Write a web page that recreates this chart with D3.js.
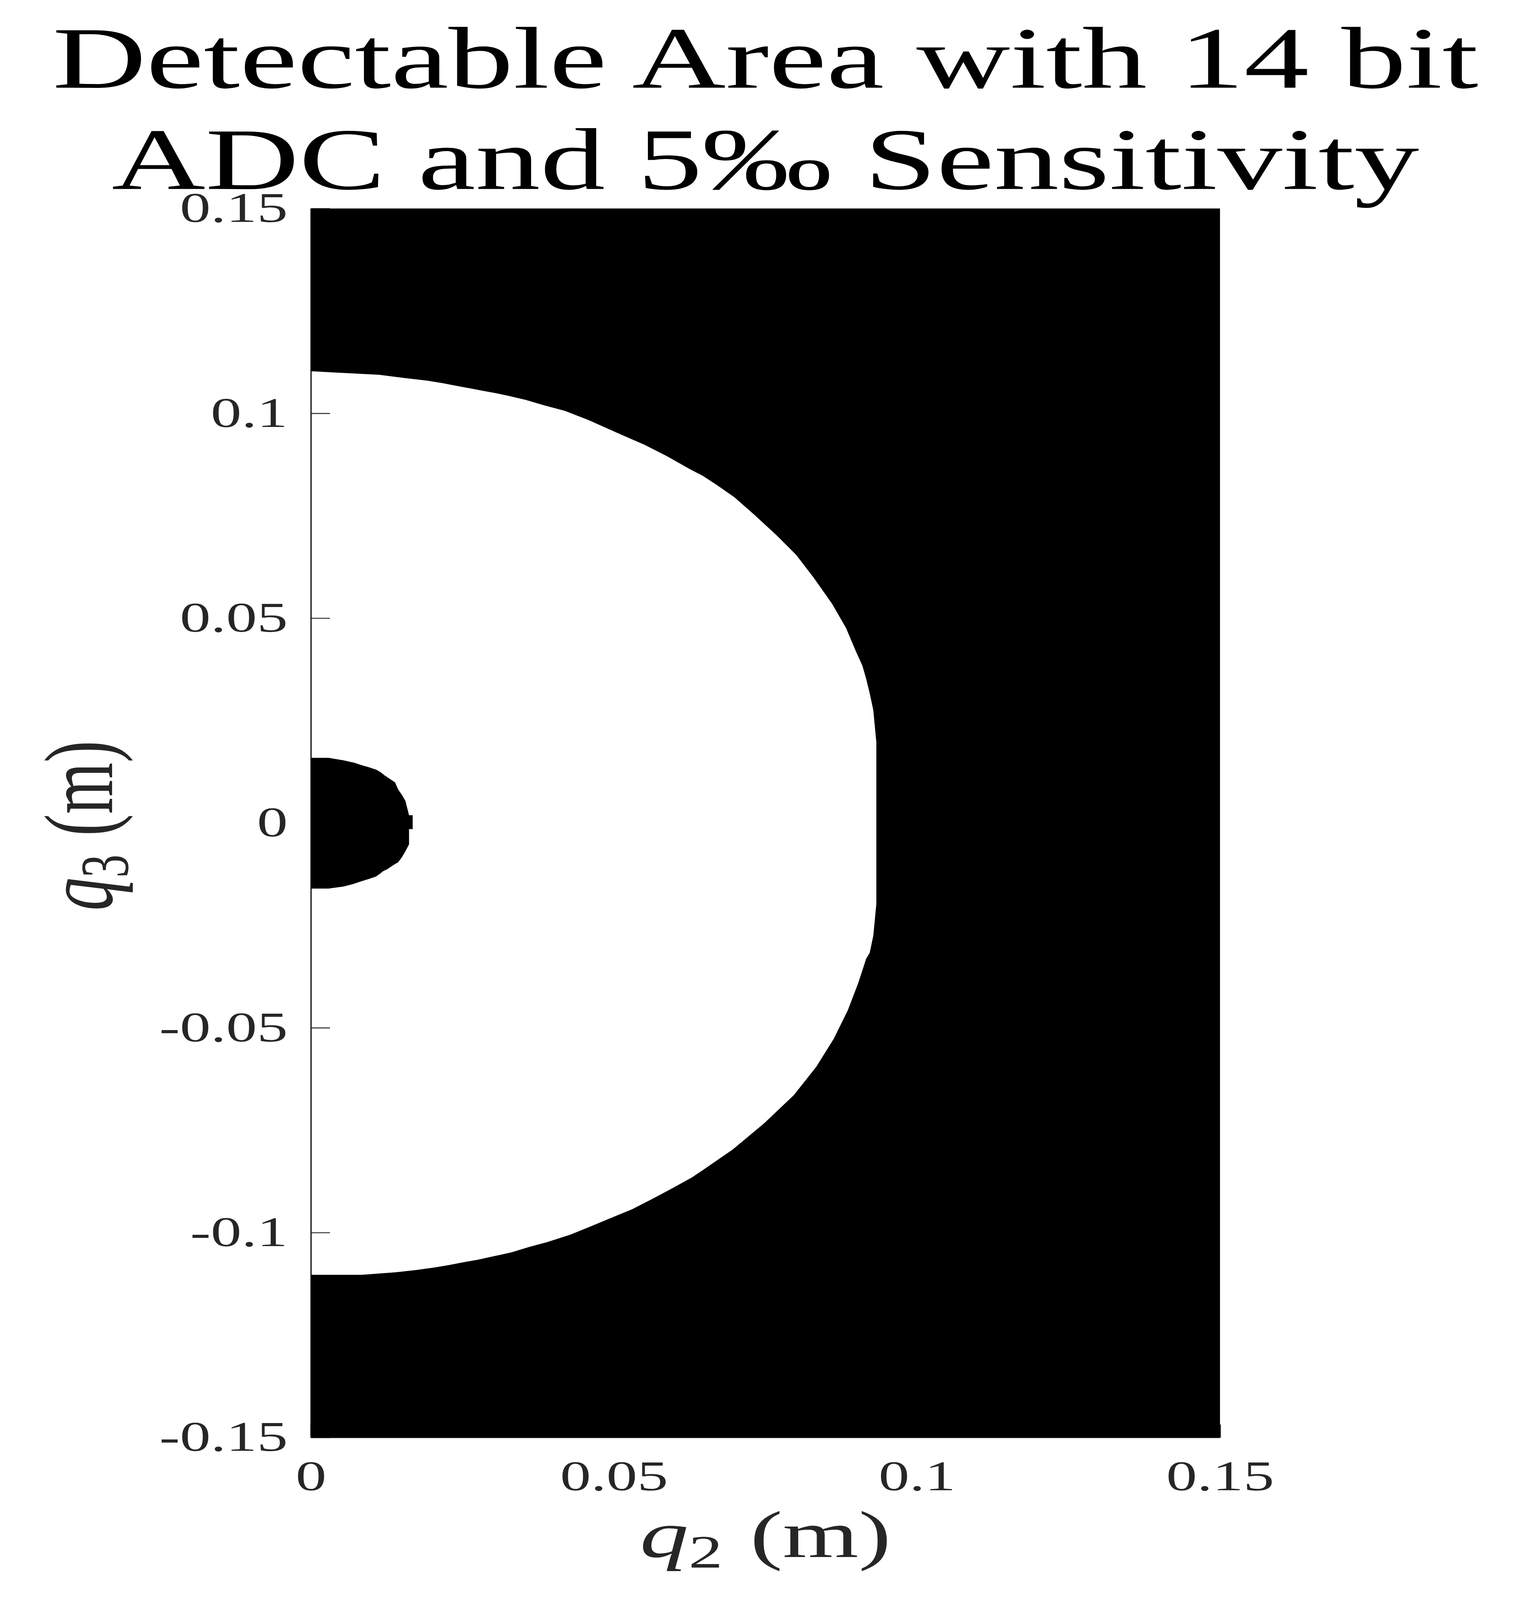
<!DOCTYPE html>
<html>
<head>
<meta charset="utf-8">
<script src="https://cdn.jsdelivr.net/npm/d3@7"></script>
<style>
  html, body { margin: 0; padding: 0; background: #ffffff; overflow: hidden; }
  svg { display: block; }
</style>
</head>
<body>
<script>
// ---- Data ----
const titleLines = ["Detectable Area with 14 bit", "ADC and 5\u2030 Sensitivity"];
const xDomain = [0, 0.15];
const yDomain = [-0.15, 0.15];
const xTicks = [0, 0.05, 0.1, 0.15];
const xTickLabels = ["0", "0.05", "0.1", "0.15"];
const yTicks = [-0.15, -0.1, -0.05, 0, 0.05, 0.1, 0.15];
const yTickLabels = ["-0.15", "-0.1", "-0.05", "0", "0.05", "0.1", "0.15"];

// Outer boundary of the white (undetectable) region, top to bottom
const outerQ3 = [0.1103, 0.1100, 0.1094, 0.1086, 0.1080, 0.1074, 0.1067, 0.1061, 0.1055, 0.1049,
  0.1043, 0.1033, 0.1020, 0.1006, 0.0985, 0.0952, 0.0923, 0.0895, 0.0864, 0.0848,
  0.0826, 0.0795, 0.0752, 0.0703, 0.0654, 0.0598, 0.0535, 0.0476, 0.0420, 0.0384,
  0.0353, 0.0317, 0.0275, 0.0197, 0.0000, -0.0197, -0.0275, -0.0317, -0.0332, -0.0355,
  -0.0391, -0.0457, -0.0526, -0.0595, -0.0664, -0.0733, -0.0797, -0.0848, -0.0865, -0.0892,
  -0.0918, -0.0943, -0.0963, -0.0984, -0.1005, -0.1023, -0.1035, -0.1048, -0.1054, -0.1060,
  -0.1066, -0.1072, -0.1079, -0.1085, -0.1091, -0.1097, -0.1103, -0.1103];
const outerQ2 = [0.0000, 0.0035, 0.0113, 0.0156, 0.0191, 0.0216, 0.0241, 0.0263, 0.0284, 0.0306,
  0.0325, 0.0354, 0.0384, 0.0419, 0.0456, 0.0506, 0.0551, 0.0588, 0.0625, 0.0646,
  0.0669, 0.0699, 0.0732, 0.0768, 0.0801, 0.0830, 0.0860, 0.0883, 0.0899, 0.0910,
  0.0916, 0.0922, 0.0928, 0.0933, 0.0933, 0.0933, 0.0928, 0.0922, 0.0916, 0.0911,
  0.0903, 0.0886, 0.0863, 0.0834, 0.0797, 0.0748, 0.0696, 0.0646, 0.0629, 0.0596,
  0.0563, 0.0530, 0.0497, 0.0463, 0.0428, 0.0390, 0.0360, 0.0331, 0.0313, 0.0294,
  0.0276, 0.0253, 0.0228, 0.0204, 0.0175, 0.0138, 0.0084, 0.0000];

// Boundary of the small black region near the origin, top to bottom
const innerQ3 = [0.0159, 0.0159, 0.0153, 0.0147, 0.0141, 0.0136, 0.0130, 0.0124, 0.0117, 0.0111,
  0.0105, 0.0099, 0.0082, 0.0069, 0.0054, 0.0019, 0.0019, -0.0015, -0.0015, -0.0052,
  -0.0069, -0.0084, -0.0096, -0.0101, -0.0107, -0.0113, -0.0118, -0.0125, -0.0131, -0.0137,
  -0.0143, -0.0149, -0.0155, -0.0160, -0.0160];
const innerQ2 = [0.0000, 0.0029, 0.0054, 0.0072, 0.0084, 0.0096, 0.0108, 0.0115, 0.0121, 0.0127,
  0.0133, 0.0139, 0.0144, 0.0150, 0.0156, 0.0162, 0.0168, 0.0168, 0.0162, 0.0162,
  0.0156, 0.0150, 0.0144, 0.0138, 0.0132, 0.0126, 0.0119, 0.0113, 0.0107, 0.0095,
  0.0082, 0.0070, 0.0054, 0.0029, 0.0000];

// ---- Drawing ----
// The chart is laid out on the reference's 3905 x 6054 canvas; the SVG is then
// fitted to the actual browser viewport so that the whole figure is always visible.
const W = 3905, H = 6054;
const FONT = "'Liberation Serif', 'Times New Roman', Times, serif";
const AXC = "#262626";

const vw = window.innerWidth || W;
const vh = window.innerHeight || H;

const svg = d3.select("body").append("svg")
  .attr("width", vw).attr("height", vh)
  .attr("viewBox", `0 0 ${W} ${H}`)
  .attr("preserveAspectRatio", "none");

svg.append("rect").attr("width", W).attr("height", H).attr("fill", "#ffffff");

const x = d3.scaleLinear().domain(xDomain).range([796, 3124]);
const y = d3.scaleLinear().domain(yDomain).range([5439, 789]);

// Axes (drawn below the data, as MATLAB's default layer)
const yAxis = d3.axisLeft(y)
  .tickValues(yTicks)
  .tickFormat((d, i) => yTickLabels[i])
  .tickSizeInner(-49).tickSizeOuter(0).tickPadding(59);
const gy = svg.append("g").attr("transform", `translate(${x(xDomain[0])},0)`).call(yAxis);

const xAxis = d3.axisBottom(x)
  .tickValues(xTicks)
  .tickFormat((d, i) => xTickLabels[i])
  .tickSizeInner(-49).tickSizeOuter(0).tickPadding(88);
const gx = svg.append("g").attr("transform", `translate(0,${y(yDomain[0])})`).call(xAxis);

[gx, gy].forEach(g => {
  g.select(".domain").attr("stroke", AXC).attr("stroke-width", 3.6);
  g.selectAll(".tick line").attr("stroke", AXC).attr("stroke-width", 3.6);
  g.selectAll(".tick text")
    .attr("fill", AXC)
    .style("font-family", FONT)
    .style("font-size", "158px");
});

// Data: black detectable region
const line = d3.line().x(d => x(d[0])).y(d => y(d[1]));
const outerPts = outerQ3.map((v, i) => [outerQ2[i], v]);
const blackPts = [
  [xDomain[0], yDomain[1]],
  [xDomain[1], yDomain[1]],
  [xDomain[1], yDomain[0]],
  [xDomain[0], yDomain[0]],
  ...outerPts.slice().reverse()
];
svg.append("path")
  .attr("d", line(blackPts) + "Z")
  .attr("fill", "#000000");

const innerPts = innerQ3.map((v, i) => [innerQ2[i], v]);
svg.append("path")
  .attr("d", line(innerPts) + "Z")
  .attr("fill", "#000000");

// Title
const cx = (x.range()[0] + x.range()[1]) / 2;
const title = svg.append("g");
titleLines.forEach((t, i) => {
  title.append("text")
    .attr("x", cx)
    .attr("y", 332 + i * 383)
    .attr("text-anchor", "middle")
    .attr("fill", "#000000")
    .style("font-family", FONT)
    .style("font-size", "332px")
    .text(t);
});

// X label: q2 (m)
const xl = svg.append("text")
  .attr("x", cx)
  .attr("y", 5892)
  .attr("text-anchor", "middle")
  .attr("fill", AXC)
  .style("font-family", FONT)
  .style("font-size", "250px");
xl.append("tspan").style("font-style", "italic").text("q");
xl.append("tspan").attr("dy", 40).style("font-size", "175px").text("2");
xl.append("tspan").attr("dy", -40).attr("dx", 70).text("(m)");

// Y label: q3 (m)
const yl = svg.append("text")
  .attr("transform", `translate(287,${(y.range()[0] + y.range()[1]) / 2 + 10}) rotate(-90)`)
  .attr("text-anchor", "middle")
  .attr("fill", AXC)
  .style("font-family", FONT)
  .style("font-size", "250px");
yl.append("tspan").style("font-style", "italic").text("q");
yl.append("tspan").attr("dy", 40).style("font-size", "175px").text("3");
yl.append("tspan").attr("dy", -40).attr("dx", 70).text("(m)");
</script>
</body>
</html>
